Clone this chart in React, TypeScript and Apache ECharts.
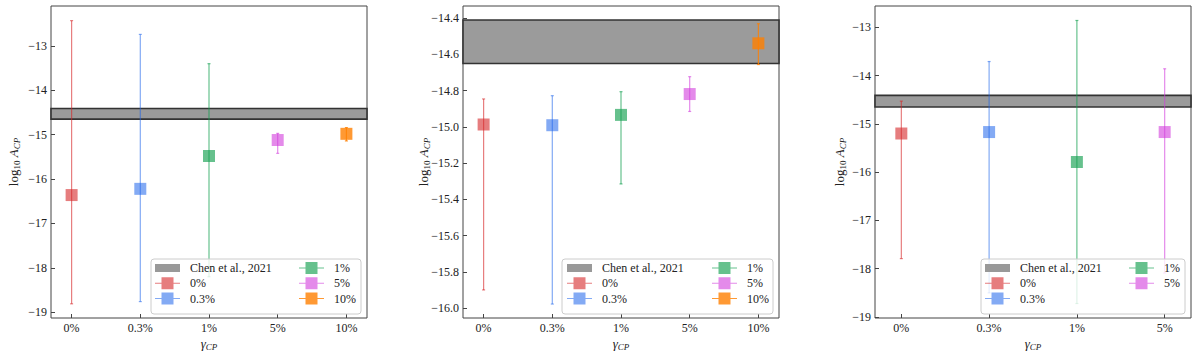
import React, { useEffect, useRef } from "react";
import * as echarts from "echarts";

// ---------- data ----------
const catsA = ["0%", "0.3%", "1%", "5%", "10%"];
const catsC = ["0%", "0.3%", "1%", "5%"];

const p1Center = [-16.36, -16.22, -15.48, -15.12, -14.98];
const p1Low = [-18.81, -18.76, -18.2, -15.42, -15.14];
const p1High = [-12.43, -12.74, -13.4, -14.97, -14.84];

const p2Center = [-14.987, -14.991, -14.934, -14.819, -14.539];
const p2Low = [-15.9, -15.978, -15.315, -14.915, -14.656];
const p2High = [-14.846, -14.828, -14.806, -14.723, -14.431];

const p3Center = [-15.2, -15.17, -15.79, -15.17];
const p3Low = [-17.79, -18.5, -18.72, -18.09];
const p3High = [-14.53, -13.71, -12.86, -13.86];

const chenBand = [-14.41, -14.65];
const chenName = "Chen et al., 2021";

const yTicks1 = [-19, -18, -17, -16, -15, -14, -13];
const yTicks2 = [-16.0, -15.8, -15.6, -15.4, -15.2, -15.0, -14.8, -14.6, -14.4];
const yTicks3 = [-19, -18, -17, -16, -15, -14, -13];

const catColors: Record<string, string> = {
  "0%": "rgba(214,39,40,0.6)",
  "0.3%": "rgba(30,100,235,0.55)",
  "1%": "rgba(20,160,80,0.65)",
  "5%": "rgba(210,60,220,0.6)",
  "10%": "rgba(255,128,0,0.8)",
};

const FONT = "'Liberation Serif', 'DejaVu Serif', serif";

const ebIcon = "path://M0,5.5h6.5v1h-6.5z M18.5,5.5h6.5v1h-6.5z M6.5,0h12v12h-12z";
const bandIcon = "path://M0,0h25v8h-25z";

export default function App() {
  const ref = useRef<HTMLDivElement>(null);
  useEffect(() => {
    document.body.style.margin = "0";
    const chart = echarts.init(ref.current!, null, { renderer: "svg" });

    const panels = [
      { cats: catsA, c: p1Center, lo: p1Low, hi: p1High, ticks: yTicks1, dec: 0,
        left: 51, xMin: -0.3, xMax: 4.3, yMin: -19.13, yMax: -12.1, nameGap: 30,
        box: [151, 259, 210, 55], col1: 155, col2: 299 },
      { cats: catsA, c: p2Center, lo: p2Low, hi: p2High, ticks: yTicks2, dec: 1,
        left: 463, xMin: -0.3, xMax: 4.3, yMin: -16.055, yMax: -14.333, nameGap: 32,
        box: [562, 259, 211, 55], col1: 567, col2: 712 },
      { cats: catsC, c: p3Center, lo: p3Low, hi: p3High, ticks: yTicks3, dec: 0,
        left: 875, xMin: -0.3, xMax: 3.3, yMin: -19.02, yMax: -12.56, nameGap: 28,
        box: [981, 259, 204, 55], col1: 985, col2: 1129 },
    ];

    const grid: any[] = [];
    const xAxis: any[] = [];
    const yAxis: any[] = [];
    const series: any[] = [];
    const legend: any[] = [];
    const graphic: any[] = [];

    const fmt = (dec: number) => (v: number) =>
      (v < 0 ? "\u2212" : "") + Math.abs(v).toFixed(dec);

    panels.forEach((p, pi) => {
      grid.push({
        left: p.left, width: 316, top: 6, height: 314,
        show: true, borderColor: "#444", borderWidth: 1, backgroundColor: "transparent",
      });
      const cats = p.cats;
      xAxis.push({
        type: "value", gridIndex: pi, min: p.xMin, max: p.xMax, position: "bottom",
        axisLine: { show: false, onZero: false },
        splitLine: { show: false },
        axisTick: { show: true, inside: true, length: 4, customValues: cats.map((_, i) => i), lineStyle: { color: "#444" } },
        axisLabel: {
          customValues: cats.map((_, i) => i),
          formatter: (v: number) => cats[Math.round(v)] ?? "",
          color: "#222", fontSize: 12, fontFamily: FONT, margin: 4,
        },
        name: "{g|\u03b3}{s|CP}",
        nameLocation: "middle", nameGap: 18, nameMoveOverlap: false,
        nameTextStyle: {
          rich: {
            g: { fontSize: 13, fontFamily: FONT, fontStyle: "italic", color: "#222" },
            s: { fontSize: 9, fontFamily: FONT, fontStyle: "italic", color: "#222", padding: [6, 0, 0, 0] },
          },
        },
      });
      yAxis.push({
        type: "value", gridIndex: pi, min: p.yMin, max: p.yMax, position: "left",
        axisLine: { show: false, onZero: false },
        splitLine: { show: false },
        axisTick: { show: true, inside: true, length: 4, customValues: p.ticks, lineStyle: { color: "#444" } },
        axisLabel: {
          customValues: p.ticks, formatter: fmt(p.dec),
          color: "#222", fontSize: 12, fontFamily: FONT, margin: 4,
        },
        name: "{n|log}{s|10}{n| }{i|A}{t|CP}",
        nameLocation: "middle", nameRotate: 90, nameGap: p.nameGap, nameMoveOverlap: false,
        nameTextStyle: {
          rich: {
            n: { fontSize: 13, fontFamily: FONT, color: "#222" },
            s: { fontSize: 9, fontFamily: FONT, color: "#222", padding: [6, 0, 0, 0] },
            i: { fontSize: 13, fontFamily: FONT, fontStyle: "italic", color: "#222" },
            t: { fontSize: 9, fontFamily: FONT, fontStyle: "italic", color: "#222", padding: [6, 0, 0, 0] },
          },
        },
      });

      // Chen et al. band
      series.push({
        type: "custom", name: chenName, xAxisIndex: pi, yAxisIndex: pi, z: 1,
        itemStyle: { color: "#999999" },
        data: [],
        renderItem: () => null,
        markArea: {
          silent: true,
          itemStyle: { color: "#9b9b9b", borderColor: "#333", borderWidth: 1.6 },
          data: [[{ yAxis: chenBand[0] }, { yAxis: chenBand[1] }]],
        },
      });

      cats.forEach((cat, i) => {
        series.push({
          type: "custom", name: cat, xAxisIndex: pi, yAxisIndex: pi, z: 2,
          itemStyle: { color: catColors[cat] },
          encode: { x: 0, y: 1 },
          data: [[i, p.c[i], p.lo[i], p.hi[i]]],
          renderItem: (params: any, api: any) => {
            const x = api.value(0);
            const c = api.coord([x, api.value(1)]);
            const lo = api.coord([x, api.value(2)]);
            const hi = api.coord([x, api.value(3)]);
            const color = api.visual("color");
            const lw = 1.2;
            return {
              type: "group",
              children: [
                { type: "line", shape: { x1: c[0], y1: lo[1], x2: c[0], y2: hi[1] }, style: { stroke: color, lineWidth: lw } },
                { type: "line", shape: { x1: c[0] - 1.5, y1: lo[1], x2: c[0] + 1.5, y2: lo[1] }, style: { stroke: color, lineWidth: lw } },
                { type: "line", shape: { x1: c[0] - 1.5, y1: hi[1], x2: c[0] + 1.5, y2: hi[1] }, style: { stroke: color, lineWidth: lw } },
                { type: "rect", shape: { x: c[0] - 6, y: c[1] - 6, width: 12, height: 12 }, style: { fill: color } },
              ],
            };
          },
        });
      });

      // legend box
      graphic.push({
        type: "rect", z: 3,
        shape: { x: p.box[0], y: p.box[1], width: p.box[2], height: p.box[3], r: 3 },
        style: { fill: "rgba(255,255,255,0.8)", stroke: "#cccccc", lineWidth: 1 },
      });

      const items = [chenName, ...cats];
      const mk = (n: string) => ({ name: n, icon: n === chenName ? bandIcon : ebIcon });
      const common = {
        orient: "vertical", top: 262, padding: 0, itemGap: 3.3, itemWidth: 25, itemHeight: 12,
        selectedMode: false, z: 4,
        textStyle: { fontFamily: FONT, fontSize: 12, color: "#222", padding: [0, 0, 0, 5] },
      };
      legend.push({ ...common, left: p.col1, data: items.slice(0, 3).map(mk) });
      legend.push({ ...common, left: p.col2, data: items.slice(3).map(mk) });
    });

    chart.setOption({
      animation: false,
      textStyle: { fontFamily: FONT },
      grid, xAxis, yAxis, series, legend, graphic,
    });
    return () => chart.dispose();
  }, []);
  return <div ref={ref} style={{ width: 1200, height: 356 }} />;
}
